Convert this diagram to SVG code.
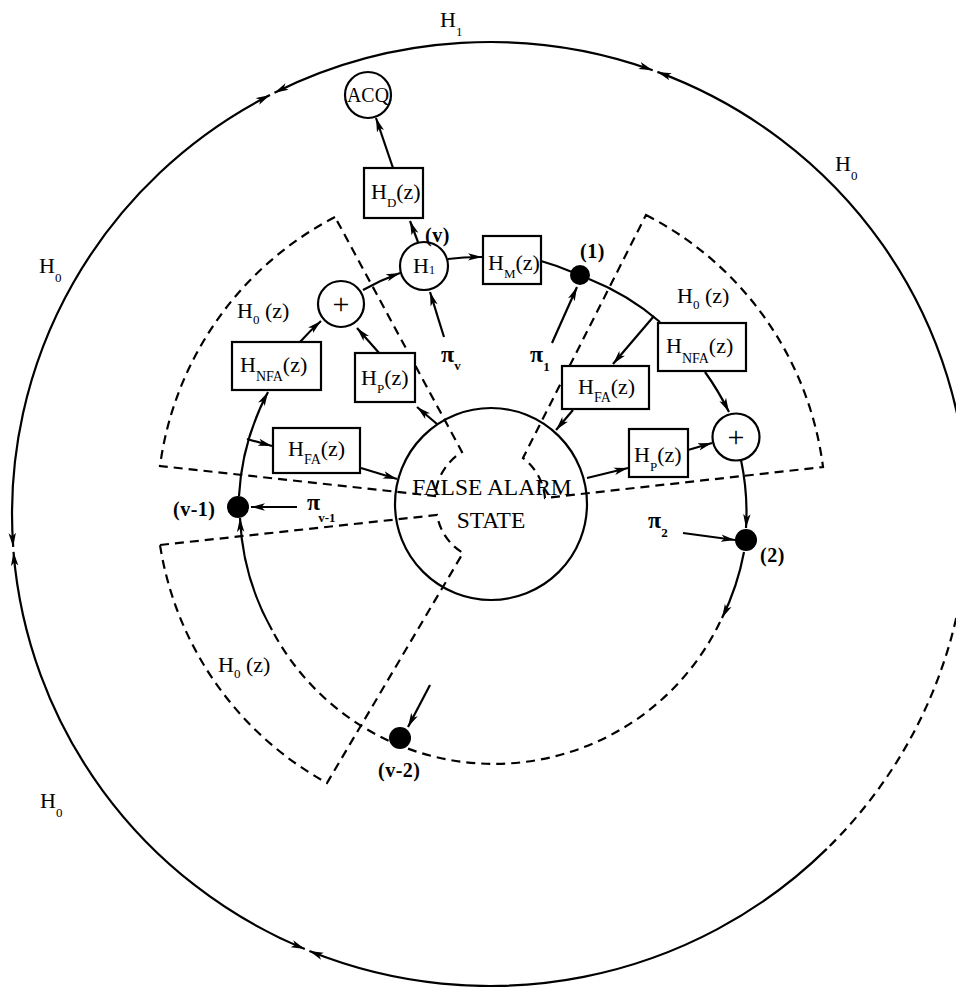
<svg xmlns="http://www.w3.org/2000/svg" width="956" height="987" viewBox="0 0 956 987">
<defs>
<marker id="ah" viewBox="0 0 14 8" refX="14" refY="4" markerWidth="14" markerHeight="8" markerUnits="userSpaceOnUse" orient="auto-start-reverse"><path d="M0,0.3 L14,4 L0,7.7 L3.5,4 z" fill="#000"/></marker>
</defs>
<style>
.ln{fill:none;stroke:#000;stroke-width:2.2}
.ds{fill:none;stroke:#000;stroke-width:2.2;stroke-dasharray:9 6}
.ar{marker-end:url(#ah)}
.ar2{marker-start:url(#ah);marker-end:url(#ah)}
.box{fill:#fff;stroke:#000;stroke-width:2.2}
.nd{fill:#fff;stroke:#000;stroke-width:2.2}
.dot{fill:#000}
text{font-family:"Liberation Serif","Times New Roman",serif;fill:#000}
.t{font-size:22px}
.s{font-size:13px}
.lb{font-size:20px;font-weight:bold;letter-spacing:0.5px}
.pi{font-size:24px;font-weight:bold}
.big{font-size:23.5px}
</style>
<rect width="956" height="987" fill="#fff"/>

<g id="sectors">
<path class="ds" d="M335,217 A330,330 0 0 0 160,466 L435,496 A57,57 0 0 1 462,452 Z"/>
<path class="ds" d="M160,545 L437,515 A55,55 0 0 0 463,553 L327,783 A330,330 0 0 1 160,545 Z"/>
<path class="ds" d="M646,215 A330,330 0 0 1 823,467 L545,498 A56,56 0 0 0 523,458 Z"/>
</g>

<g id="connectors">
<path class="ln ar2" d="M274.5,92.7 A478,472 0 0 1 652.7,70.2"/>
<path class="ln ar2" d="M13.2,546.9 A478,472 0 0 1 270,95"/>
<path class="ln ar2" d="M13.5,551.9 A478,472 0 0 0 304.8,949.1"/>
<path class="ln" d="M657.4,71.9 A478,472 0 0 1 968,514" style="marker-start:url(#ah)"/>
<path class="ds" d="M968,514 A478,472 0 0 1 826.8,848.9"/>
<path class="ln ar" d="M826.8,848.9 A478,472 0 0 1 309.4,951"/>

<path class="ln ar" d="M239,496 A251,251 0 0 1 268,392"/>
<path class="ln ar" d="M300,342 A251,251 0 0 1 321,321"/>
<path class="ln ar" d="M363,290 A251,251 0 0 1 400,273"/>
<path class="ln ar" d="M448,259 A251,251 0 0 1 482,257"/>
<path class="ln" d="M541,261 A251,251 0 0 1 572,272"/>
<path class="ln" d="M589,279 A251,251 0 0 1 660,322"/>
<path class="ln ar" d="M741,460 A251,251 0 0 1 746,528"/>
<path class="ln ar" d="M744,552 A251,251 0 0 1 722,618"/>
<path class="ds" d="M720,622 A251,251 0 0 1 272,630"/>
<path class="ln ar" d="M272,630 A251,251 0 0 1 240,518"/>

<path class="ln ar" d="M393,168 L376,118"/>
<path class="ln ar" d="M418,242 L410,221"/>
<path class="ln ar" d="M444,337 L430,292"/>
<path class="ln ar" d="M552,343 L577,287"/>
<path class="ln ar" d="M654,316 L613,364"/>
<path class="ln ar" d="M573,410 L556,430"/>
<path class="ln ar" d="M587,478 L628,468"/>
<path class="ln ar" d="M688,450 L712,443"/>
<path class="ln ar" d="M705,372 Q718,390 729,412"/>
<path class="ln ar" d="M683,533 L735,540"/>
<path class="ln ar" d="M430,685 L408,727"/>
<path class="ln ar" d="M297,507 L251,507"/>
<path class="ln ar" d="M361,468 L397,479"/>
<path class="ln ar" d="M437,424 L417,407"/>
<path class="ln ar" d="M380,354 L357,328"/>
<path class="ln ar" d="M247,439 L272,446"/>
</g>

<g id="false-alarm">
<circle class="nd" cx="491" cy="504" r="96" style="fill:none"/>
<text class="big" x="492" y="495" text-anchor="middle">FALSE ALARM</text>
<text class="big" x="491" y="528" text-anchor="middle">STATE</text>
</g>

<g id="acq"><circle class="nd" cx="368" cy="95" r="23"/><text x="347" y="102" font-size="20" textLength="42" lengthAdjust="spacingAndGlyphs">ACQ</text></g>
<g id="h1"><circle class="nd" cx="424" cy="266" r="24"/><text class="t" x="413" y="273">H<tspan font-size="12" dy="1">1</tspan></text></g>
<g id="plus-left"><circle class="nd" cx="341" cy="304" r="23"/><text x="341" y="314" font-size="30" text-anchor="middle">+</text></g>
<g id="plus-right"><circle class="nd" cx="736" cy="437" r="23.5"/><text x="736" y="447" font-size="30" text-anchor="middle">+</text></g>

<g id="hd"><rect class="box" x="364" y="168" width="59" height="50"/><text class="t" x="371" y="199">H<tspan class="s" dy="8">D</tspan><tspan dy="-8">(z)</tspan></text></g>
<g id="hm"><rect class="box" x="483" y="236" width="58" height="48"/><text class="t" x="488" y="270">H<tspan class="s" dy="8">M</tspan><tspan dy="-8">(z)</tspan></text></g>
<g id="hnfa-left"><rect class="box" x="232" y="342" width="89" height="48"/><text class="t" x="240" y="372">H<tspan font-size="14" dy="9">NFA</tspan><tspan dy="-9">(z)</tspan></text></g>
<g id="hp-left"><rect class="box" x="355" y="353" width="60" height="49"/><text class="t" x="361" y="385">H<tspan class="s" dy="8">P</tspan><tspan dy="-8">(z)</tspan></text></g>
<g id="hfa-left"><rect class="box" x="273" y="428" width="87" height="45"/><text class="t" x="288" y="456">H<tspan font-size="14" dy="8">FA</tspan><tspan dy="-8">(z)</tspan></text></g>
<g id="hnfa-right"><rect class="box" x="658" y="323" width="88" height="48"/><text class="t" x="666" y="353">H<tspan font-size="14" dy="10">NFA</tspan><tspan dy="-10">(z)</tspan></text></g>
<g id="hfa-right"><rect class="box" x="562" y="366" width="87" height="43"/><text class="t" x="578" y="394">H<tspan font-size="14" dy="8">FA</tspan><tspan dy="-8">(z)</tspan></text></g>
<g id="hp-right"><rect class="box" x="629" y="429" width="59" height="48"/><text class="t" x="634" y="462">H<tspan class="s" dy="9">P</tspan><tspan dy="-9">(z)</tspan></text></g>

<g id="dots">
<circle class="dot" cx="238" cy="507" r="11"/>
<circle class="dot" cx="580" cy="275" r="10"/>
<circle class="dot" cx="746" cy="540" r="11"/>
<circle class="dot" cx="400" cy="738" r="11"/>
</g>

<g id="labels">
<text class="t" x="440" y="27">H<tspan class="s" dy="9">1</tspan></text>
<text class="t" x="39" y="273">H<tspan class="s" dy="9">0</tspan></text>
<text class="t" x="835" y="171">H<tspan class="s" dy="9">0</tspan></text>
<text class="t" x="40" y="808">H<tspan class="s" dy="9">0</tspan></text>
<text class="t" x="237" y="318">H<tspan class="s" dy="6">0</tspan><tspan dy="-6"> (z)</tspan></text>
<text class="t" x="677" y="303">H<tspan class="s" dy="6">0</tspan><tspan dy="-6"> (z)</tspan></text>
<text class="t" x="218" y="672">H<tspan class="s" dy="6">0</tspan><tspan dy="-6"> (z)</tspan></text>
<text class="lb" x="425" y="242">(v)</text>
<text class="lb" x="580" y="258">(1)</text>
<text class="lb" x="760" y="562">(2)</text>
<text class="lb" x="173" y="516">(v-1)</text>
<text class="lb" x="378" y="777">(v-2)</text>
<text class="pi" x="441" y="362">π<tspan class="s" dy="8">v</tspan></text>
<text class="pi" x="530" y="362">π<tspan class="s" dy="9">1</tspan></text>
<text class="pi" x="648" y="528">π<tspan class="s" dy="9">2</tspan></text>
<text class="pi" x="307" y="510">π<tspan class="s" dy="12" dx="-2">v-1</tspan></text>
</g>
</svg>
